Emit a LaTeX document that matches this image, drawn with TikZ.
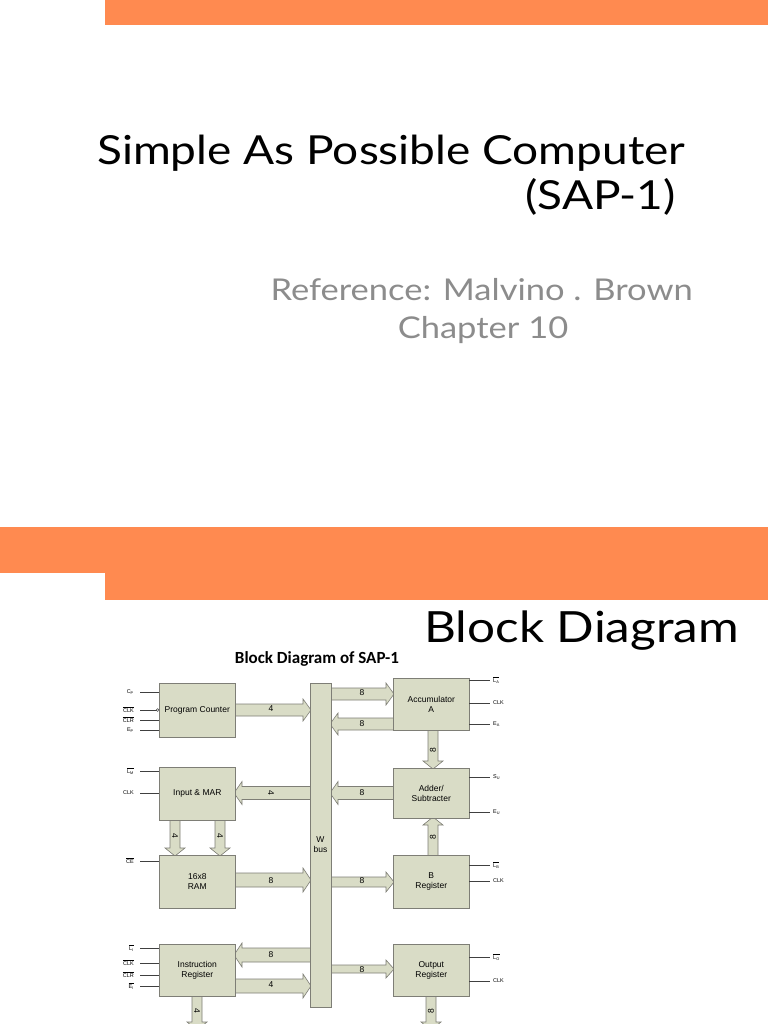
\documentclass[tikz,border=0pt]{standalone}
\usepackage{fontspec}
\setmainfont{Lato}
\newfontfamily\dfont{Liberation Sans}
\newfontfamily\tfont{Carlito}
\definecolor{orng}{HTML}{FF8A50}
\definecolor{boxf}{HTML}{D9DCC6}
\definecolor{boxd}{HTML}{7E7E76}
\definecolor{gtext}{HTML}{8C8C8C}
\tikzset{
  blk/.style={draw=boxd,fill=boxf,line width=0.6pt,inner sep=0pt,align=center,font=\dfont\fontsize{8.5}{10}\selectfont},
  blab/.style={inner sep=0pt,align=center,font=\dfont\fontsize{8.5}{10}\selectfont},
  fatarr/.style={draw=boxd,fill=boxf,line width=0.6pt,line join=miter},
  num/.style={font=\dfont\fontsize{8.5}{9}\selectfont,inner sep=0pt},
  sig/.style={font=\dfont\fontsize{5.5}{6}\selectfont,inner sep=0pt},
  ctl/.style={draw=black!75,line width=0.5pt},
  slide/.style={inner sep=0pt,xscale=1.15,transform shape}
}
\newcommand\harrow[4]{%
 \pgfmathsetmacro\sgn{sign(#2-#1)}%
 \pgfmathsetmacro\xb{#2-\sgn*8}%
 \filldraw[fatarr] (#1,#3-#4) -- (\xb,#3-#4) -- (\xb,#3-#4-5) -- (#2,#3) -- (\xb,#3+#4+5) -- (\xb,#3+#4) -- (#1,#3+#4) -- cycle;}
\newcommand\varrow[4]{%
 \pgfmathsetmacro\sgn{sign(#2-#1)}%
 \pgfmathsetmacro\yb{#2-\sgn*8}%
 \filldraw[fatarr] (#3-#4,#1) -- (#3-#4,\yb) -- (#3-#4-5,\yb) -- (#3,#2) -- (#3+#4+5,\yb) -- (#3+#4,\yb) -- (#3+#4,#1) -- cycle;}
\newcommand\ol[1]{$\overline{\hbox{#1}}$}
\begin{document}
\begin{tikzpicture}[x=1pt,y=-1pt]
\useasboundingbox (0,0) rectangle (768,1024);
\fill[white] (0,0) rectangle (768,1024);
% slide bars
\fill[orng] (105,0) rectangle (768,25);
\fill[orng] (0,527) rectangle (768,573);
\fill[orng] (105,573) rectangle (768,600);
% slide text
\node[slide,anchor=base west,font=\fontsize{40}{46}\selectfont] (t1) at (97,165) {Simple As Possible Computer};
\node[slide,anchor=base east,font=\fontsize{40}{46}\selectfont] (t2) at (676,210) {(SAP-1)};
\node[slide,anchor=base east,text=gtext,font=\fontsize{30}{36}\selectfont] (r1) at (693,300) {Reference: Malvino . Brown};
\node[slide,anchor=base,text=gtext,font=\fontsize{30}{36}\selectfont] (r2) at (483,338) {Chapter 10};
\node[slide,anchor=base west,font=\fontsize{43}{48}\selectfont] (bd) at (424,642) {Block Diagram};
\node[inner sep=0pt,font=\tfont\bfseries\fontsize{17}{19}\selectfont] (bdt) at (317,659) {Block Diagram of SAP-1};
% fat arrows
\harrow{234}{311}{710}{6}
\harrow{330}{394}{694}{6}
\harrow{394}{330}{724}{6}
\harrow{311}{234}{793}{6.5}
\harrow{394}{330}{793}{6.5}
\harrow{234}{311}{880}{7}
\harrow{330}{394}{882}{5}
\harrow{311}{234}{955}{7}
\harrow{234}{311}{986}{7}
\harrow{330}{394}{969}{4}
\varrow{729}{769}{433}{5}
\varrow{856}{817}{433}{5}
\varrow{819}{856}{175}{5}
\varrow{819}{856}{220}{5}
\varrow{995}{1030}{197}{5}
\varrow{995}{1030}{431}{5}
% bus and blocks
\node[blk,minimum width=21pt,minimum height=324pt,anchor=north west] (wbus) at (310,683) {};
\node[blab] (wlab) at (320.5,845) {W\\bus};
\node[blk,minimum width=76pt,minimum height=54pt,anchor=north west] (pc) at (159,683) {Program Counter};
\node[blk,minimum width=76pt,minimum height=53pt,anchor=north west] (mar) at (159,767) {Input \& MAR};
\node[blk,minimum width=76pt,minimum height=53pt,anchor=north west] (ram) at (159,855) {16x8\\RAM};
\node[blk,minimum width=76pt,minimum height=52pt,anchor=north west] (ir) at (159,944) {Instruction\\Register};
\node[blk,minimum width=76pt,minimum height=52pt,anchor=north west] (acc) at (393,678) {Accumulator\\A};
\node[blk,minimum width=76pt,minimum height=50pt,anchor=north west] (add) at (393,768) {Adder/\\Subtracter};
\node[blk,minimum width=76pt,minimum height=53pt,anchor=north west] (breg) at (393,855) {B\\Register};
\node[blk,minimum width=76pt,minimum height=52pt,anchor=north west] (oreg) at (393,944) {Output\\Register};
% bus widths
\node[num] (n1) at (271,709) {4};
\node[num] (n2) at (362,693) {8};
\node[num] (n3) at (362,724) {8};
\node[num,rotate=90] (n4) at (433,750) {8};
\node[num,rotate=-90] (n5) at (271,793) {4};
\node[num] (n6) at (362,793) {8};
\node[num,rotate=90] (n7) at (433,837) {8};
\node[num,rotate=-90] (n8) at (175,836) {4};
\node[num,rotate=-90] (n9) at (220,836) {4};
\node[num] (n10) at (271,881) {8};
\node[num] (n11) at (362,881) {8};
\node[num] (n12) at (271,955) {8};
\node[num] (n13) at (271,985) {4};
\node[num] (n14) at (362,970) {8};
\node[num,rotate=-90] (n15) at (197,1011) {4};
\node[num,rotate=90] (n16) at (431,1011) {8};
% left control lines
\foreach \nm/\yy/\lb in {cp/692/C\textsubscript{P}, clr/720/\ol{CLR}, ep/730/E\textsubscript{P},
   lm/771/\ol{L\textsubscript{M}}, ck2/793/CLK, ce/861/\ol{CE},
   li/948/\ol{L\textsubscript{I}}, ck3/963/\ol{CLK}, clr2/975/\ol{CLR}, ei/986/\ol{E\textsubscript{I}}}{
  \coordinate (s\nm) at (140,\yy);
  \draw[ctl] (s\nm) -- (159,\yy);
  \node[sig,anchor=east] (l\nm) at (134,\yy) {\lb};
}
\coordinate (sck1) at (140,710);
\draw[ctl] (sck1) -- (156.5,710);
\draw[ctl,fill=white] (157.7,710) circle (1.4);
\node[sig,anchor=east] (lck1) at (134,710) {\ol{CLK}};
% right control lines
\foreach \nm/\yy/\lb in {la/680/\ol{L\textsubscript{A}}, ck4/703/CLK, ea/724/E\textsubscript{A},
   su/777/S\textsubscript{U}, eu/812/E\textsubscript{U}, lb/865/\ol{L\textsubscript{B}}, ck5/881/CLK,
   lo/957/\ol{L\textsubscript{O}}, ck6/981/CLK}{
  \coordinate (e\nm) at (490,\yy);
  \draw[ctl] (469,\yy) -- (e\nm);
  \node[sig,anchor=west] (r\nm) at (493,\yy) {\lb};
}
\end{tikzpicture}
\end{document}
